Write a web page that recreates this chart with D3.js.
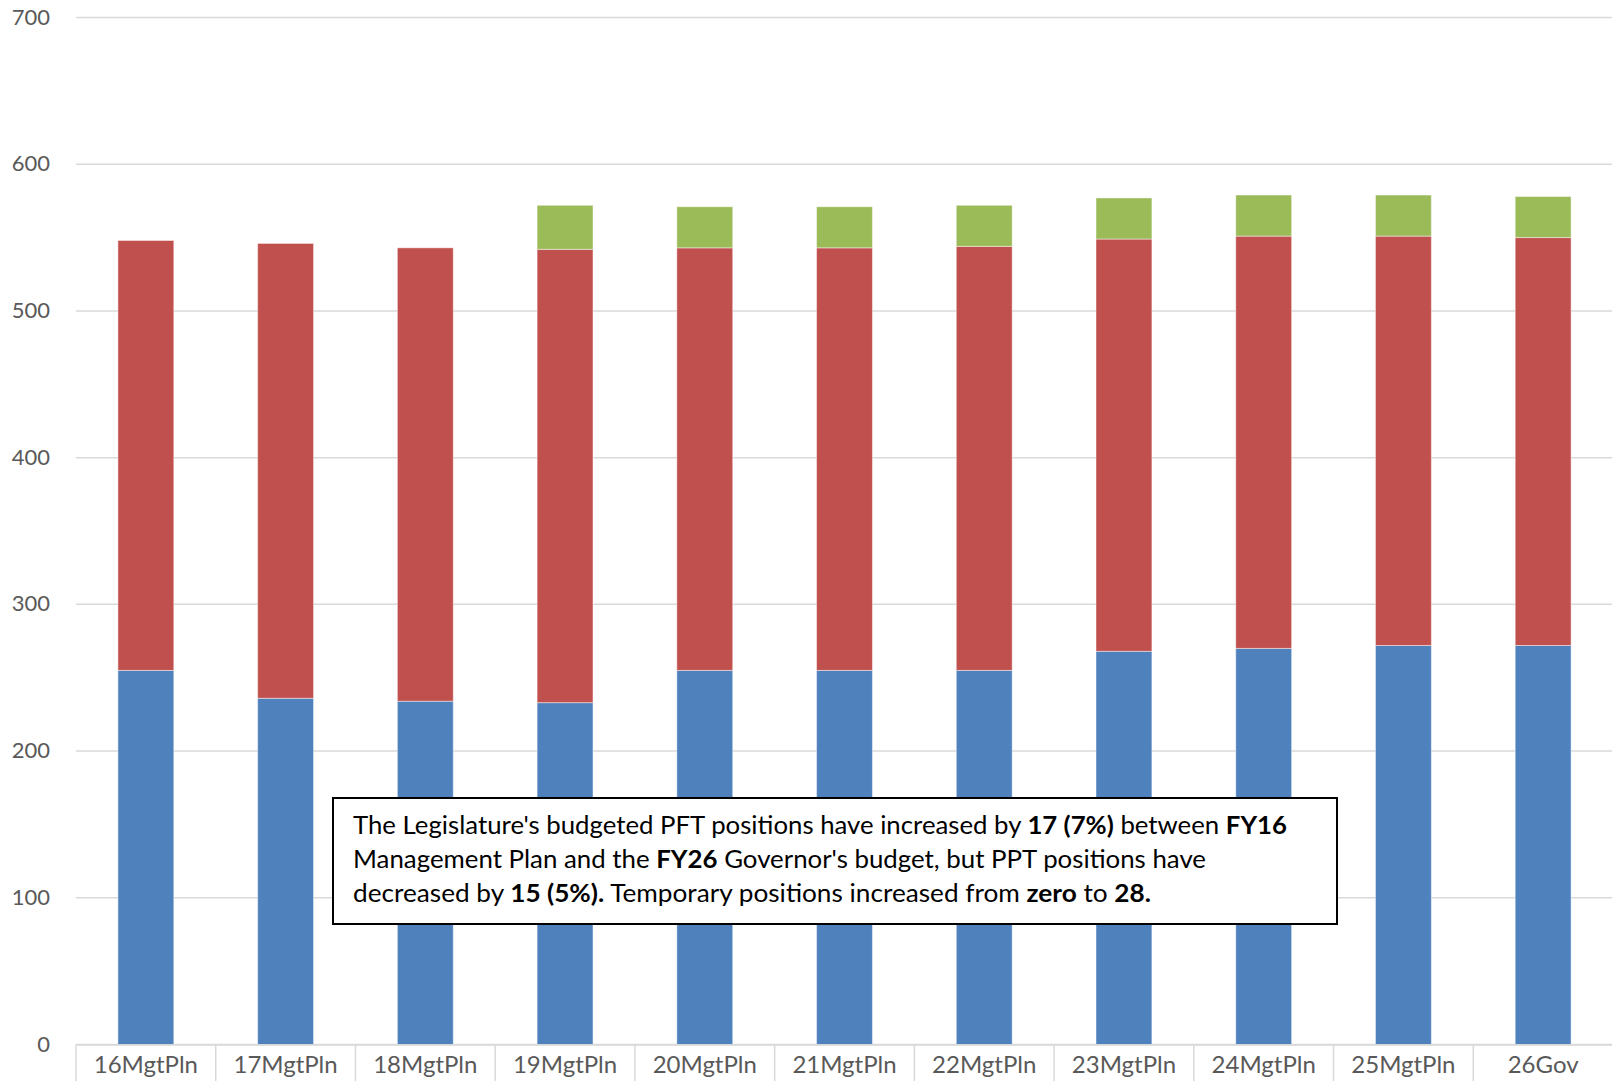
<!DOCTYPE html>
<html>
<head>
<meta charset="utf-8">
<script src="https://cdn.jsdelivr.net/npm/d3@7"></script>
<style>
  html, body { margin: 0; padding: 0; background: #fff; }
  svg { display: block; }
</style>
</head>
<body>
<svg id="chart" width="1612" height="1081"></svg>
<script>
// Budgeted positions by plan year: permanent full-time, permanent part-time, temporary
const categories = ["16MgtPln", "17MgtPln", "18MgtPln", "19MgtPln", "20MgtPln", "21MgtPln",
                    "22MgtPln", "23MgtPln", "24MgtPln", "25MgtPln", "26Gov"];
const pftPositions = [255, 236, 234, 233, 255, 255, 255, 268, 270, 272, 272];
const pptPositions = [293, 310, 309, 309, 288, 288, 289, 281, 281, 279, 278];
const tempPositions = [0, 0, 0, 30, 28, 28, 28, 28, 28, 28, 28];
const yTicks = [0, 100, 200, 300, 400, 500, 600, 700];

const seriesKeys = ["pft", "ppt", "temp"];
const seriesColors = { pft: "#4F81BD", ppt: "#C0504D", temp: "#9BBB59" };

const rows = categories.map((c, i) => ({
  cat: c, pft: pftPositions[i], ppt: pptPositions[i], temp: tempPositions[i]
}));

const svg = d3.select("#chart");
const plotLeft = 76, plotRight = 1613, plotTop = 17.5, plotBottom = 1044.5;

const x = d3.scaleBand().domain(categories).range([plotLeft, plotRight]).padding(0);
const y = d3.scaleLinear().domain([0, 700]).range([plotBottom, plotTop]);

// horizontal gridlines
svg.append("g").selectAll("line").data(yTicks).join("line")
  .attr("x1", plotLeft).attr("x2", plotRight)
  .attr("y1", d => y(d)).attr("y2", d => y(d))
  .attr("stroke", "#D9D9D9").attr("stroke-width", 1.5);

// value axis labels
svg.append("g").selectAll("text").data(yTicks).join("text")
  .attr("x", 50).attr("y", d => y(d) + 7)
  .attr("text-anchor", "end")
  .attr("font-family", "Lato, 'Open Sans', sans-serif")
  .attr("font-size", 22)
  .attr("fill", "#595959")
  .text(d => d);

// stacked bars
const stack = d3.stack().keys(seriesKeys)(rows);
const bw = x.bandwidth();
svg.append("g").selectAll("g").data(stack).join("g")
  .attr("fill", d => seriesColors[d.key])
  .selectAll("rect").data(d => d.filter(p => p[1] - p[0] > 0)).join("rect")
  .attr("x", d => x(d.data.cat) + bw * 0.3)
  .attr("width", bw * 0.4)
  .attr("y", d => y(d[1]))
  .attr("height", d => y(d[0]) - y(d[1]))
  .attr("stroke", "#ffffff").attr("stroke-opacity", 0.45).attr("stroke-width", 1);

// category axis: baseline and separators
svg.append("line")
  .attr("x1", plotLeft).attr("x2", plotRight).attr("y1", plotBottom + 0.5).attr("y2", plotBottom + 0.5)
  .attr("stroke", "#D9D9D9").attr("stroke-width", 1.5);
const seps = categories.map(c => x(c)).concat([plotRight]);
svg.append("g").selectAll("line").data(seps).join("line")
  .attr("x1", d => d).attr("x2", d => d)
  .attr("y1", plotBottom).attr("y2", 1081)
  .attr("stroke", "#D9D9D9").attr("stroke-width", 1.5);
svg.append("g").selectAll("text").data(categories).join("text")
  .attr("x", d => x(d) + bw / 2).attr("y", 1073)
  .attr("text-anchor", "middle")
  .attr("font-family", "Lato, 'Open Sans', sans-serif")
  .attr("font-size", 24)
  .attr("fill", "#595959")
  .text(d => d);

// annotation box
const note = svg.append("g");
note.append("rect")
  .attr("x", 333).attr("y", 798).attr("width", 1004).attr("height", 126)
  .attr("fill", "#ffffff").attr("stroke", "#000000").attr("stroke-width", 2);

const noteLines = [
  { len: 934, parts: [["The Legislature's budgeted PFT positions have increased by ", false], ["17 (7%)", true], [" between ", false], ["FY16", true]] },
  { len: 853, parts: [["Management Plan and the ", false], ["FY26", true], [" Governor's budget, but PPT positions have", false]] },
  { len: 798, parts: [["decreased by ", false], ["15 (5%).", true], [" Temporary positions increased from ", false], ["zero", true], [" to ", false], ["28.", true]] }
];
noteLines.forEach((ln, i) => {
  const t = note.append("text")
    .attr("x", 353).attr("y", 834 + i * 34)
    .attr("font-family", "Lato, 'Open Sans', sans-serif")
    .attr("font-size", 25)
    .attr("fill", "#000000")
    .attr("textLength", ln.len)
    .attr("lengthAdjust", "spacingAndGlyphs");
  ln.parts.forEach(([s, b]) => {
    t.append("tspan").attr("font-weight", b ? "bold" : "normal").text(s);
  });
});
</script>
</body>
</html>
